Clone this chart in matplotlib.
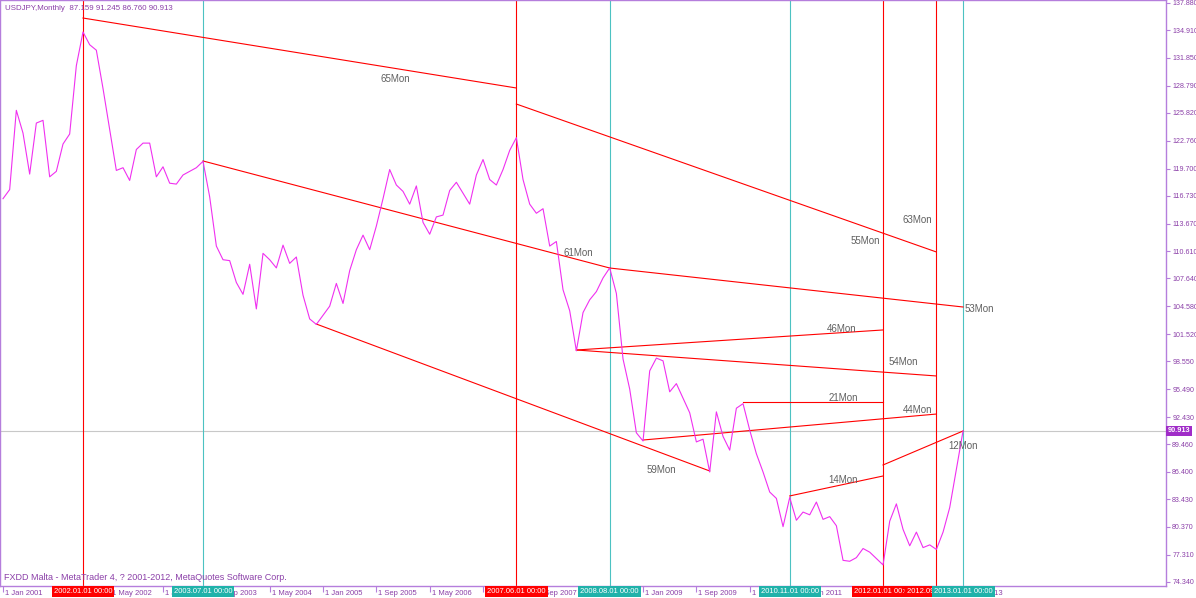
import matplotlib
matplotlib.use("Agg")
import matplotlib.pyplot as plt
import matplotlib.transforms as mtransforms

FONT = "Liberation Sans"
FRAME = "#B57EDC"
TEXT = "#8B3FA8"
RED = "#FF0000"
TEAL_LINE = "#4CC2C2"
TEAL_BOX = "#20B2AA"
PRICE_BOX = "#A02CC8"

# monthly closes, Jan 2001 .. Jan 2013 (bar index 0 = Jan 2001)
closes = [
    116.4, 117.4, 126.1, 123.6, 119.1, 124.7, 125.0, 118.8, 119.4, 122.4, 123.5, 131.0,  # 2001
    134.7, 133.3, 132.7, 128.5, 124.0, 119.5, 119.8, 118.4, 121.8, 122.5, 122.5, 118.8,  # 2002
    119.9, 118.1, 118.0, 119.0, 119.4, 119.8, 120.5, 116.6, 111.2, 109.7, 109.6, 107.2,  # 2003
    105.9, 109.2, 104.3, 110.4, 109.7, 108.8, 111.3, 109.3, 110.0, 105.8, 103.2, 102.6,  # 2004
    103.6, 104.6, 107.1, 104.9, 108.5, 110.8, 112.4, 110.8, 113.4, 116.4, 119.6, 117.9,  # 2005
    117.2, 115.8, 117.8, 113.8, 112.5, 114.4, 114.6, 117.3, 118.2, 117.0, 115.8, 119.0,  # 2006
    120.7, 118.5, 117.9, 119.6, 121.7, 123.1, 118.5, 115.8, 114.8, 115.3, 111.2, 111.7,  # 2007
    106.4, 104.1, 99.7, 103.9, 105.3, 106.2, 107.7, 108.8, 106.0, 98.8, 95.5, 90.7,      # 2008
    89.8, 97.5, 98.9, 98.6, 95.2, 96.1, 94.5, 92.9, 89.7, 90.0, 86.4, 93.0,              # 2009
    90.3, 88.8, 93.4, 93.9, 91.0, 88.4, 86.4, 84.2, 83.5, 80.4, 83.6, 81.1,              # 2010
    82.0, 81.7, 83.1, 81.2, 81.5, 80.5, 76.7, 76.6, 77.0, 78.0, 77.6, 76.9,              # 2011
    76.2, 81.0, 82.9, 80.1, 78.3, 79.8, 78.1, 78.4, 77.9, 79.8, 82.5, 86.7,              # 2012
    90.913,                                                                              # 2013
]
last_price = 90.913
title = "USDJPY,Monthly  87.159 91.245 86.760 90.913"
footer = "FXDD Malta - MetaTrader 4, ? 2001-2012, MetaQuotes Software Corp."

# vertical lines (bar index) and their colour kind
vl_month = [12, 30, 77, 91, 118, 132, 140, 144]
vl_kind = ["red", "teal", "red", "teal", "teal", "red", "red", "teal"]
vl_label = ["2002.01.01 00:00", "2003.07.01 00:00", "2007.06.01 00:00", "2008.08.01 00:00",
            "2010.11.01 00:00", "2012.01.01 00:00", "2012.09.01 00:00", "2013.01.01 00:00"]

# trend lines: start bar, start value, end bar, end value
tl_x0 = [12, 77, 30, 91, 86, 86, 111, 96, 47, 118, 132]
tl_y0 = [136.23, 126.79, 120.54, 108.79, 99.79, 99.79, 94.03, 89.91, 102.64, 83.77, 87.17]
tl_x1 = [77, 140, 91, 144, 132, 140, 132, 140, 106, 132, 144]
tl_y1 = [128.55, 110.55, 108.79, 104.51, 101.99, 96.94, 94.03, 92.76, 86.51, 85.96, 90.90]

# text objects
lbl_text = ["65Mon", "63Mon", "55Mon", "61Mon", "53Mon", "46Mon", "54Mon",
            "21Mon", "44Mon", "59Mon", "14Mon", "12Mon"]
lbl_x = [58.8, 137.2, 129.3, 86.3, 146.5, 125.8, 135.0, 126.0, 137.2, 98.8, 126.0, 144.0]
lbl_y = [129.54, 114.06, 111.76, 110.44, 104.29, 102.09, 98.47, 94.52, 93.20, 86.62, 85.52, 89.25]

# price scale
y_ticks = [137.880, 134.910, 131.850, 128.790, 125.820, 122.760, 119.700, 116.730,
           113.670, 110.610, 107.640, 104.580, 101.520, 98.550, 95.490, 92.430,
           89.460, 86.400, 83.430, 80.370, 77.310, 74.340]

# time scale
months = ["Jan", "Feb", "Mar", "Apr", "May", "Jun", "Jul", "Aug", "Sep", "Oct", "Nov", "Dec"]
x_ticks = list(range(0, 145, 8))
x_labels = [f"1 {months[m % 12]} {2001 + m // 12}" for m in x_ticks]

plt.rcParams["font.family"] = [FONT, "DejaVu Sans"]

fig = plt.figure(figsize=(11.96, 5.98), dpi=100)
ax = fig.add_axes([0.0, 12 / 598, 1166 / 1196, 586 / 598])
ax.set_xlim(-0.45, 174.44)
ax.set_ylim(73.885, 138.209)

for s in ax.spines.values():
    s.set_color(FRAME)
    s.set_linewidth(1.0)

ax.axhline(last_price, color="#C8C8C8", lw=0.8, zorder=1)

for m, k in zip(vl_month, vl_kind):
    ax.axvline(m, color=RED if k == "red" else TEAL_LINE, lw=0.8, zorder=2)

for x0, y0, x1, y1 in zip(tl_x0, tl_y0, tl_x1, tl_y1):
    ax.plot([x0, x1], [y0, y1], color=RED, lw=0.8, zorder=3)

ax.plot(range(len(closes)), closes, color="#F030F0", lw=0.8, zorder=4)

for t, x, y in zip(lbl_text, lbl_x, lbl_y):
    ax.text(x, y, t, color="#606060", fontsize=7, ha="center", va="center", zorder=5)

ax.yaxis.tick_right()
ax.set_yticks(y_ticks)
ax.set_yticklabels([f"{v:.3f}" for v in y_ticks])
ax.tick_params(axis="y", which="both", right=True, left=False, labelright=True, labelleft=False,
               length=3, width=0.8, pad=1.5, colors=FRAME, labelcolor=TEXT, labelsize=5.1)

ax.set_xticks(x_ticks)
ax.set_xticklabels([])
ax.tick_params(axis="x", length=4, width=0.8, colors=FRAME, direction="out")
trans_x = mtransforms.blended_transform_factory(ax.transData, ax.transAxes)
off = mtransforms.ScaledTranslation(2 / 100, 0, fig.dpi_scale_trans)
for m, lab in zip(x_ticks, x_labels):
    ax.text(m, -0.006, lab, transform=trans_x + off, ha="left", va="top",
            fontsize=5.5, color=TEXT, clip_on=False, zorder=6)

for i, (m, k, lab) in enumerate(zip(vl_month, vl_kind, vl_label)):
    ax.text(m, -0.004, lab, transform=trans_x, ha="center", va="top", fontsize=5.5,
            color="white", clip_on=False, zorder=10 + i,
            bbox=dict(boxstyle="square,pad=0.28", fc=RED if k == "red" else TEAL_BOX, ec="none"))

trans_y = mtransforms.blended_transform_factory(ax.transAxes, ax.transData)
ax.text(1.0015, last_price, f"{last_price:.3f}", transform=trans_y, ha="left", va="center",
        fontsize=5.3, color="white", fontweight="bold", clip_on=False, zorder=10,
        bbox=dict(boxstyle="square,pad=0.2", fc=PRICE_BOX, ec="none"))

ax.text(5 / 1166, 1 - 9 / 586, title, transform=ax.transAxes, ha="left", va="center",
        fontsize=5.7, color=TEXT, zorder=6)
ax.text(4 / 1166, 1 - 577 / 586, footer, transform=ax.transAxes, ha="left", va="center",
        fontsize=6.5, color=TEXT, zorder=6)

fig.savefig("out.png", dpi=100, facecolor="white")
